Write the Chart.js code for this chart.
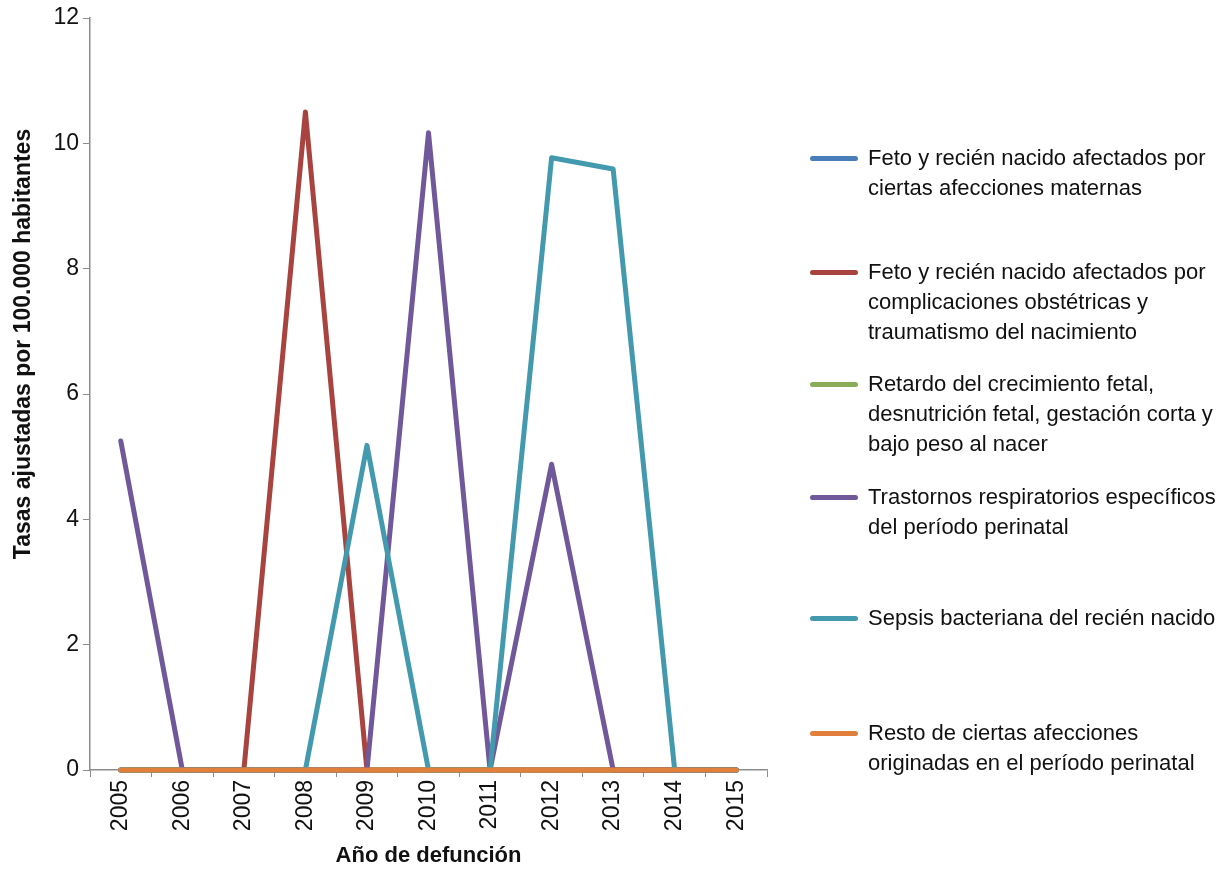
<!DOCTYPE html>
<html>
<head>
<meta charset="utf-8">
<script src="https://cdn.jsdelivr.net/npm/chart.js@4"></script>
<style>
  html, body { margin: 0; padding: 0; background: #fff; }
  body { width: 1225px; height: 873px; position: relative; overflow: hidden;
    font-family: "Liberation Sans Narrow", "Arial Narrow", "Liberation Sans", sans-serif; }
  #wrap { position: absolute; left: 0; top: 0; width: 790px; height: 873px; }
  #legend { position: absolute; left: 0; top: 0; width: 1225px; height: 873px; pointer-events: none; }
  .item { position: absolute; left: 810px; display: flex; align-items: flex-start; }
  .swatch { width: 48px; height: 5px; border-radius: 3px; margin-top: 13px; margin-right: 10px; flex: none; }
  .txt { font-size: 22px; line-height: 30px; color: #111; width: 360px; white-space: nowrap; }
  #ytitle { position: absolute; left: 22px; top: 344px; transform: translate(-50%, -50%) rotate(-90deg);
    white-space: nowrap; font-size: 23px; font-weight: bold; color: #111; }
</style>
</head>
<body>
<div id="wrap"><canvas id="chart"></canvas></div>
<div id="ytitle">Tasas ajustadas por 100.000 habitantes</div>
<div id="legend"></div>
<script>
const years = ['2005','2006','2007','2008','2009','2010','2011','2012','2013','2014','2015']

const seriesNames = [
  'Feto y recién nacido afectados por ciertas afecciones maternas',
  'Feto y recién nacido afectados por complicaciones obstétricas y traumatismo del nacimiento',
  'Retardo del crecimiento fetal, desnutrición fetal, gestación corta y bajo peso al nacer',
  'Trastornos respiratorios específicos del período perinatal',
  'Sepsis bacteriana del recién nacido',
  'Resto de ciertas afecciones originadas en el período perinatal'
]

const maternas      = [0, 0, 0, 0, 0, 0, 0, 0, 0, 0, 0]
const obstetricas   = [0, 0, 0, 10.5, 0, 0, 0, 0, 0, 0, 0]
const retardo       = [0, 0, 0, 0, 0, 0, 0, 0, 0, 0, 0]
const respiratorios = [5.25, 0, 0, 0, 0, 10.17, 0, 4.88, 0, 0, 0]
const sepsis        = [0, 0, 0, 0, 5.18, 0, 0, 9.77, 9.59, 0, 0]
const resto         = [0, 0, 0, 0, 0, 0, 0, 0, 0, 0, 0]

const yTicks = [0, 2, 4, 6, 8, 10, 12]

const colors = ['#4A7EBB', '#A8433F', '#8AAB57', '#71589A', '#4399AE', '#E0803A']
const allSeries = [maternas, obstetricas, retardo, respiratorios, sepsis, resto]

// legend text wrapped as in the original
const legendLines = [
  ['Feto y recién nacido afectados por', 'ciertas afecciones maternas'],
  ['Feto y recién nacido afectados por', 'complicaciones obstétricas y', 'traumatismo del nacimiento'],
  ['Retardo del crecimiento fetal,', 'desnutrición fetal, gestación corta y', 'bajo peso al nacer'],
  ['Trastornos respiratorios específicos', 'del período perinatal'],
  ['Sepsis bacteriana del recién nacido'],
  ['Resto de ciertas afecciones', 'originadas en el período perinatal']
]
const legendTops = [143, 257, 369, 482, 603, 718]

const legend = document.getElementById('legend')
legendLines.forEach((lines, i) => {
  const el = document.createElement('div')
  el.className = 'item'
  el.style.top = legendTops[i] + 'px'
  el.innerHTML = `<div class="swatch" style="background:${colors[i]}"></div>
    <div class="txt">${lines.join('<br>')}</div>`
  legend.appendChild(el)
})

const fontFamily = '"Liberation Sans Narrow", "Arial Narrow", "Liberation Sans", sans-serif'

new Chart(document.getElementById('chart'), {
  type: 'line',
  data: {
    labels: years,
    datasets: allSeries.map((data, i) => ({
      label: seriesNames[i],
      data: data,
      borderColor: colors[i],
      backgroundColor: colors[i],
      borderWidth: 5,
      pointRadius: 0,
      tension: 0,
      fill: false,
      clip: false,
      borderCapStyle: 'round',
      borderJoinStyle: 'round',
      order: allSeries.length - i
    }))
  },
  options: {
    responsive: true,
    maintainAspectRatio: false,
    animation: false,
    layout: { padding: { top: 18, right: 23, left: 0, bottom: 0 } },
    plugins: { legend: { display: false }, tooltip: { enabled: false } },
    scales: {
      x: {
        offset: true,
        grid: { offset: true, drawOnChartArea: false, drawTicks: true, tickLength: 7, color: '#8c8c8c' },
        border: { color: '#8c8c8c', width: 1.5, z: -1 },
        ticks: { minRotation: 90, maxRotation: 90, color: '#111', padding: 3,
          font: { family: fontFamily, size: 23 } },
        title: { display: true, text: 'Año de defunción', color: '#111', padding: { top: 2 },
          font: { family: fontFamily, size: 22, weight: 'bold' } },
        afterFit: s => { s.height = 103 }
      },
      y: {
        min: 0, max: 12,
        afterBuildTicks: s => { s.ticks = yTicks.map(v => ({ value: v })) },
        grid: { drawOnChartArea: false, drawTicks: true, tickLength: 7, color: '#8c8c8c' },
        border: { color: '#8c8c8c', width: 1.5 },
        ticks: { color: '#111', padding: 4, font: { family: fontFamily, size: 23 } },
        afterFit: s => { s.width = 90 }
      }
    }
  }
})
</script>
</body>
</html>
